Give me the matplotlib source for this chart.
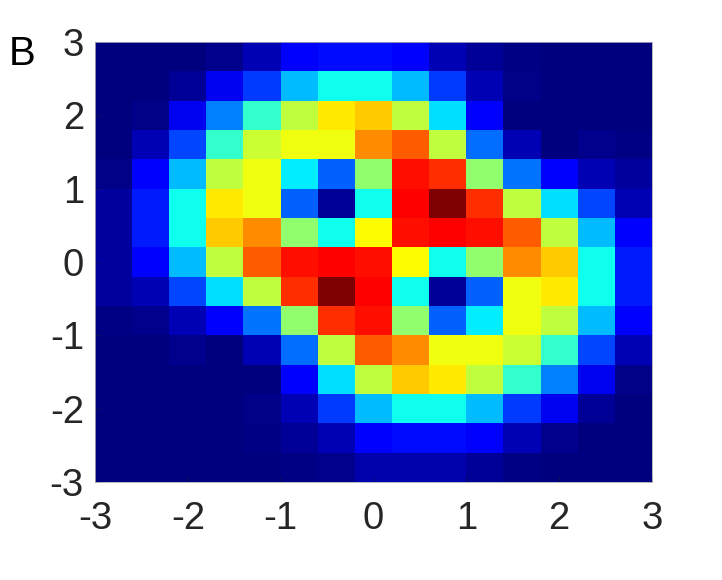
import numpy as np
import matplotlib
matplotlib.use("Agg")
import matplotlib.pyplot as plt
from matplotlib.colors import LinearSegmentedColormap

plt.rcParams['font.family'] = ['Liberation Sans', 'DejaVu Sans']
plt.rcParams['axes.unicode_minus'] = False

row_00 = [0, 0, 0, .015, .05, .11, .124, .124, .11, .05, .02, .005, 0, 0, 0]
row_01 = [0, 0, .02, .10, .17, .30, .38, .38, .30, .17, .05, .01, 0, 0, 0]
row_02 = [0, .01, .10, .24, .416, .555, .637, .67, .555, .335, .11, 0, 0, 0, 0]
row_03 = [0, .05, .18, .416, .568, .604, .604, .733, .778, .555, .22, .05, 0, .015, .005]
row_04 = [.01, .11, .30, .555, .604, .35, .21, .508, .858, .825, .508, .23, .11, .05, .03]
row_05 = [.03, .14, .38, .637, .604, .21, .02, .38, .873, 1.0, .825, .555, .335, .18, .05]
row_06 = [.03, .14, .38, .67, .733, .508, .38, .619, .858, .873, .858, .778, .555, .30, .11]
row_07 = [.03, .11, .30, .555, .778, .858, .873, .858, .619, .38, .508, .733, .67, .38, .14]
row_08 = [.03, .05, .18, .335, .555, .825, 1.0, .873, .38, .02, .21, .604, .637, .38, .14]
row_09 = [.005, .015, .05, .11, .23, .508, .825, .858, .508, .21, .35, .604, .555, .30, .11]
row_10 = [0, 0, .015, 0, .05, .22, .555, .778, .733, .604, .604, .568, .416, .18, .05]
row_11 = [0, 0, 0, 0, 0, .11, .335, .555, .67, .637, .555, .416, .24, .10, .01]
row_12 = [0, 0, 0, 0, .01, .05, .17, .30, .38, .38, .30, .17, .10, .02, 0]
row_13 = [0, 0, 0, 0, .005, .02, .05, .11, .124, .124, .11, .05, .015, 0, 0]
row_14 = [0, 0, 0, 0, 0, .005, .015, .04, .04, .04, .02, .005, 0, 0, 0]
rows = [row_00, row_01, row_02, row_03, row_04, row_05, row_06, row_07,
        row_08, row_09, row_10, row_11, row_12, row_13, row_14]
tick_values = [-3, -2, -1, 0, 1, 2, 3]
panel_label = "B"

cmap = LinearSegmentedColormap.from_list("jet_m", [
    (0, (0, 0, .5)), (.111, (0, 0, 1)), (.365, (0, 1, 1)),
    (.619, (1, 1, 0)), (.873, (1, 0, 0)), (1, (.5, 0, 0))], N=256)

W, H = 722, 580
fig = plt.figure(figsize=(W / 100, H / 100), dpi=100)
ax = fig.add_axes([95 / W, 1 - 482 / H, (652 - 95) / W, (482 - 42) / H])
ax.imshow(np.array(rows), cmap=cmap, vmin=0, vmax=1, extent=(-3, 3, -3, 3),
          origin="upper", aspect="auto", interpolation="nearest")
ax.set_xticks(tick_values)
ax.set_yticks(tick_values)
ax.set_xticklabels([str(t) for t in tick_values])
ax.set_yticklabels([str(t) for t in tick_values])
ax.tick_params(direction="in", length=4, width=0.5, color="#26262680",
               labelsize=27.5, labelcolor="#262626")
ax.tick_params(axis="x", pad=14)
ax.tick_params(axis="y", pad=8)
for s in ax.spines.values():
    s.set_linewidth(0.6)
    s.set_color("#a8a8b8")
fig.text(22 / W, 1 - 54 / H, panel_label, fontsize=29, color="black",
         ha="center", va="center")
fig.savefig("out.png", dpi=100)
